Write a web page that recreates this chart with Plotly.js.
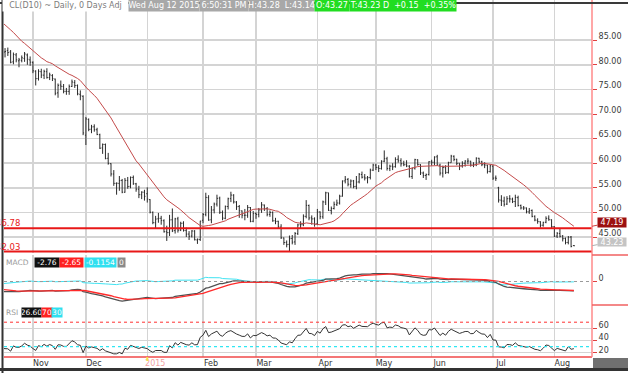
<!DOCTYPE html>
<html><head><meta charset="utf-8">
<script src="https://cdn.plot.ly/plotly-3.0.1.min.js"></script>
<style>html,body{margin:0;padding:0;background:#fff}#chart{width:628px;height:373px}</style>
</head><body><div id="chart"></div>
<script>
// ---------- DATA (CL(D10) daily bars) ----------
const dates = [
'2014-10-17','2014-10-20','2014-10-21','2014-10-22','2014-10-23','2014-10-24','2014-10-27','2014-10-28','2014-10-29','2014-10-30','2014-10-31',
'2014-11-03','2014-11-04','2014-11-05','2014-11-06','2014-11-07','2014-11-10','2014-11-11','2014-11-12','2014-11-13','2014-11-14','2014-11-17','2014-11-18','2014-11-19','2014-11-20','2014-11-21','2014-11-24','2014-11-25','2014-11-26','2014-11-28',
'2014-12-01','2014-12-02','2014-12-03','2014-12-04','2014-12-05','2014-12-08','2014-12-09','2014-12-10','2014-12-11','2014-12-12','2014-12-15','2014-12-16','2014-12-17','2014-12-18','2014-12-19','2014-12-22','2014-12-23','2014-12-24','2014-12-26','2014-12-29','2014-12-30','2014-12-31',
'2015-01-02','2015-01-05','2015-01-06','2015-01-07','2015-01-08','2015-01-09','2015-01-12','2015-01-13','2015-01-14','2015-01-15','2015-01-16','2015-01-20','2015-01-21','2015-01-22','2015-01-23','2015-01-26','2015-01-27','2015-01-28','2015-01-29','2015-01-30',
'2015-02-02','2015-02-03','2015-02-04','2015-02-05','2015-02-06','2015-02-09','2015-02-10','2015-02-11','2015-02-12','2015-02-13','2015-02-17','2015-02-18','2015-02-19','2015-02-20','2015-02-23','2015-02-24','2015-02-25','2015-02-26','2015-02-27',
'2015-03-02','2015-03-03','2015-03-04','2015-03-05','2015-03-06','2015-03-09','2015-03-10','2015-03-11','2015-03-12','2015-03-13','2015-03-16','2015-03-17','2015-03-18','2015-03-19','2015-03-20','2015-03-23','2015-03-24','2015-03-25','2015-03-26','2015-03-27','2015-03-30','2015-03-31',
'2015-04-01','2015-04-02','2015-04-06','2015-04-07','2015-04-08','2015-04-09','2015-04-10','2015-04-13','2015-04-14','2015-04-15','2015-04-16','2015-04-17','2015-04-20','2015-04-21','2015-04-22','2015-04-23','2015-04-24','2015-04-27','2015-04-28','2015-04-29','2015-04-30',
'2015-05-01','2015-05-04','2015-05-05','2015-05-06','2015-05-07','2015-05-08','2015-05-11','2015-05-12','2015-05-13','2015-05-14','2015-05-15','2015-05-18','2015-05-19','2015-05-20','2015-05-21','2015-05-22','2015-05-26','2015-05-27','2015-05-28','2015-05-29',
'2015-06-01','2015-06-02','2015-06-03','2015-06-04','2015-06-05','2015-06-08','2015-06-09','2015-06-10','2015-06-11','2015-06-12','2015-06-15','2015-06-16','2015-06-17','2015-06-18','2015-06-19','2015-06-22','2015-06-23','2015-06-24','2015-06-25','2015-06-26','2015-06-29','2015-06-30',
'2015-07-01','2015-07-02','2015-07-06','2015-07-07','2015-07-08','2015-07-09','2015-07-10','2015-07-13','2015-07-14','2015-07-15','2015-07-16','2015-07-17','2015-07-20','2015-07-21','2015-07-22','2015-07-23','2015-07-24','2015-07-27','2015-07-28','2015-07-29','2015-07-30','2015-07-31',
'2015-08-03','2015-08-04','2015-08-05','2015-08-06','2015-08-07','2015-08-10','2015-08-11','2015-08-12'];

const open = [
81.9,82.6,82.9,82.6,80.6,82.0,80.8,80.9,81.3,82.0,81.0,
80.5,78.7,77.2,78.6,77.9,78.6,77.4,77.8,77.1,74.3,75.9,75.6,74.6,74.6,75.6,76.4,75.8,74.0,73.6,
65.7,68.9,66.9,67.4,66.8,65.8,63.1,63.8,61.0,59.9,57.8,55.9,55.9,56.5,54.1,56.5,55.3,57.1,55.8,54.7,53.6,54.1,
53.8,52.6,50.0,47.9,48.7,48.8,48.3,46.1,45.9,48.5,46.3,48.7,46.4,47.8,46.3,45.6,45.2,46.2,44.4,44.5,
48.4,49.6,53.0,48.5,50.5,51.7,52.9,50.0,48.8,51.2,52.8,53.5,52.1,51.2,50.3,49.4,49.4,51.0,48.2,
49.8,49.6,50.5,51.5,50.8,49.6,50.0,48.3,48.2,47.0,44.8,43.9,43.5,44.7,44.0,45.7,47.5,47.5,49.2,51.4,48.9,48.7,
47.7,50.1,49.1,52.1,54.0,50.4,50.8,51.6,51.9,53.3,56.4,56.7,55.7,56.4,55.3,56.2,57.7,57.2,57.0,57.1,58.6,
59.6,59.1,58.9,60.4,60.9,58.9,59.4,59.3,60.8,60.5,59.9,59.7,59.4,57.3,59.0,60.7,59.7,58.0,57.5,57.7,
60.3,60.2,61.3,59.6,58.0,59.1,58.1,60.1,61.4,60.8,60.0,59.5,60.0,60.4,60.4,59.6,59.7,61.0,60.3,59.7,59.6,58.3,
59.4,57.0,55.0,52.5,52.3,51.7,52.8,52.7,52.2,53.0,51.4,50.9,50.9,50.1,50.4,49.2,48.4,48.1,47.4,48.0,48.8,48.5,
47.1,45.2,45.7,45.2,44.7,43.9,45.0,43.27];

const high = [
83.5,83.4,83.5,83.0,82.5,82.4,81.4,81.9,82.6,82.3,81.7,
80.7,78.9,79.1,79.2,79.0,79.3,78.4,78.1,77.2,76.2,76.8,76.1,75.3,76.0,77.0,76.9,76.0,74.8,73.8,
69.4,69.1,67.8,67.9,67.2,66.0,64.0,64.0,62.1,60.0,58.6,56.1,57.4,56.8,57.0,57.2,57.3,57.5,56.0,55.4,54.3,54.6,
55.1,52.7,50.2,49.3,49.9,49.3,48.6,47.3,49.5,50.8,48.9,49.1,48.1,48.2,46.9,46.2,46.4,46.4,44.7,48.3,
49.9,54.0,53.5,51.3,52.0,53.6,53.2,50.4,51.4,53.0,54.2,53.7,52.3,51.5,50.4,50.7,51.5,51.1,50.3,
50.0,50.9,52.1,51.6,51.1,50.4,50.2,48.9,48.3,47.6,44.9,44.3,45.3,45.4,46.0,47.7,48.2,49.6,52.5,51.6,49.4,49.0,
50.7,50.2,52.4,54.2,54.0,51.2,52.2,52.6,53.6,56.5,57.4,57.0,56.7,56.6,57.4,58.0,58.3,57.8,57.4,58.9,59.9,
59.9,59.6,60.6,62.6,61.3,59.7,60.0,61.2,61.6,61.0,60.5,60.6,59.6,59.1,60.9,60.8,59.8,58.3,57.9,60.4,
60.7,61.4,61.7,59.9,59.5,59.6,60.3,61.7,61.6,60.9,60.0,60.4,60.6,61.0,60.5,60.2,61.2,61.1,60.5,60.2,59.7,59.7,
59.6,57.5,55.2,53.5,53.2,53.3,53.5,53.0,53.6,53.4,51.6,51.3,51.0,50.9,50.6,49.4,48.8,48.2,48.1,49.2,49.4,48.6,
47.2,46.0,46.7,45.4,44.9,45.2,45.2,43.28];

const low = [
80.9,81.5,81.8,80.3,80.1,80.5,79.5,80.5,80.6,80.0,79.8,
78.3,75.8,76.8,77.3,77.1,77.2,76.9,76.7,73.8,73.3,74.9,74.2,73.9,73.9,75.5,75.3,73.8,72.8,65.7,
63.7,66.5,66.1,66.4,65.7,62.9,61.9,60.8,59.7,57.3,55.4,53.6,54.4,53.9,54.0,54.8,54.9,55.6,54.2,52.9,52.7,52.4,
52.0,49.8,47.6,46.8,47.9,47.5,45.9,44.2,45.2,46.0,45.7,45.9,46.2,46.1,45.0,44.4,44.9,44.3,43.6,44.2,
47.8,49.2,48.3,47.8,49.8,51.2,49.7,48.4,48.6,50.6,52.1,51.8,50.5,48.9,48.8,48.4,48.9,48.0,48.0,
48.7,49.0,49.9,50.3,49.2,49.1,48.1,47.6,46.7,44.6,43.4,42.9,42.03,43.5,43.4,45.4,46.7,47.2,48.8,48.4,47.5,47.1,
47.4,48.6,48.7,51.5,50.3,49.6,50.6,51.3,51.6,53.2,55.9,55.3,55.0,54.9,54.7,55.9,56.9,56.5,55.9,56.7,58.4,
58.6,58.2,58.7,60.2,58.5,58.4,58.6,59.1,60.1,59.3,59.4,59.2,57.1,56.8,58.7,59.5,57.6,57.0,56.6,57.5,
59.5,59.6,59.5,57.5,57.1,57.8,57.9,60.1,60.4,59.6,58.6,59.1,59.3,59.8,59.3,59.2,59.4,60.0,59.4,59.0,57.9,58.1,
56.6,56.4,52.0,51.3,51.2,51.5,52.0,51.9,51.1,51.2,50.6,50.5,49.8,49.7,49.0,48.2,47.7,46.9,47.1,47.8,48.3,46.7,
45.0,44.8,44.9,44.1,43.5,43.5,42.9,43.14];

const close = [
82.75,82.71,82.49,80.52,82.09,81.01,81.00,81.42,82.20,81.12,80.54,
78.78,77.19,78.68,77.91,78.65,77.40,77.94,77.18,74.21,75.82,75.64,74.61,74.58,75.58,76.51,75.78,74.09,73.69,66.15,
69.00,66.88,67.38,66.81,65.84,63.05,63.82,60.94,59.95,57.81,55.91,55.93,56.47,54.11,56.52,55.26,57.12,55.84,54.73,53.61,54.12,53.27,
52.69,50.04,47.93,48.65,48.79,48.36,46.07,45.89,48.48,46.25,48.69,46.39,47.78,46.31,45.59,45.15,46.23,44.45,44.53,48.24,
49.57,53.05,48.45,50.48,51.69,52.86,50.02,48.84,51.21,52.78,53.53,52.14,51.16,50.34,49.45,49.43,50.99,48.17,49.76,
49.59,50.52,51.53,50.76,49.61,50.00,48.29,48.17,47.05,44.84,43.88,43.46,44.66,43.96,45.72,47.45,47.51,49.21,51.43,48.87,48.68,47.60,
50.09,49.14,52.14,53.98,50.42,50.79,51.64,51.91,53.29,56.39,56.71,55.74,56.38,55.26,56.16,57.74,57.15,56.99,57.06,58.58,59.63,
59.15,58.93,60.40,60.93,58.94,59.39,59.25,60.75,60.50,59.88,59.69,59.43,57.26,58.98,60.72,59.72,58.03,57.51,57.68,60.30,
60.20,61.26,59.64,58.00,59.13,58.14,60.14,61.43,60.77,59.96,59.52,59.97,60.45,60.45,59.61,59.68,61.01,60.27,59.70,59.63,58.33,59.47,
56.96,56.93,52.53,52.33,51.65,52.78,52.74,52.20,53.04,51.41,50.91,50.89,50.15,50.36,49.19,48.45,48.14,47.39,47.98,48.79,48.52,47.12,
45.17,45.74,45.15,44.66,43.87,44.96,43.08,43.23];

// closes before the visible window (only used to warm up the indicators)
const priorCloses = [105.34,104.48,104.06,103.53,103.40,102.29,102.93,100.83,100.91,99.96,101.20,103.19,103.13,104.59,102.39,103.12,102.07,102.09,101.67,100.97,100.27,98.17,
97.88,98.29,97.38,96.92,97.34,97.65,98.08,97.37,97.59,95.58,97.35,96.41,94.48,96.07,93.96,93.65,93.35,93.86,93.88,94.55,95.96,
92.88,95.54,94.45,93.29,92.66,92.75,91.67,92.83,92.27,92.92,94.88,94.42,93.07,92.41,91.52,91.56,92.80,92.53,93.54,94.57,91.16,
90.73,91.01,89.74,90.34,88.85,87.31,85.77,85.82,85.74,81.84,81.78,82.70];

const holidays = ['2014-11-27','2014-12-25','2015-01-01','2015-01-19','2015-02-16','2015-04-03','2015-05-25','2015-07-03'];
const monthTicks = ['2014-11-03','2014-12-01','2015-01-02','2015-02-02','2015-03-02','2015-04-01','2015-05-01','2015-06-01','2015-07-01','2015-08-03'];
const monthLabels = ['Nov','Dec','<span style="color:#f2a2a2">2015</span>','Feb','Mar','Apr','May','Jun','Jul','Aug'];
const priceTicks = [45,50,55,60,65,70,75,80,85];
const rsiTicks = [20,40,60];
const levelLines = [46.78, 42.03];
const headerTexts = ['CL(D10) ~ Daily, 0 Days Adj','Wed Aug 12 2015','6:50:31 PM','H:43.28\u00a0\u00a0L:43.14','O:43.27','T:43.23 D\u00a0\u00a0+0.15\u00a0\u00a0+0.35%'];
const macdLabels = ['MACD','-2.76','-2.65','-0.1154','0'];
const rsiLabels = ['RSI','26.60','70','30'];

// ---------- INDICATORS ----------
const allC = priorCloses.concat(close);
const off = priorCloses.length;
function sma(a,n){return a.map((v,i)=> i<n-1?null:a.slice(i-n+1,i+1).reduce((s,x)=>s+x,0)/n);}
function ema(a,n){const k=2/(n+1);let e=null;return a.map(v=>{e=(e===null)?v:v*k+e*(1-k);return e;});}
const ma20 = sma(allC,20).slice(off);
const e12 = ema(allC,12), e26 = ema(allC,26);
const macdAll = e12.map((v,i)=>v-e26[i]);
const sigAll = ema(macdAll,9);
const macd = macdAll.slice(off), signal = sigAll.slice(off);
const hist = macd.map((v,i)=>v-signal[i]);
function rsiCalc(a,n){const out=new Array(a.length).fill(null);let g=0,l=0;
  for(let i=1;i<=n;i++){const d=a[i]-a[i-1]; if(d>0) g+=d; else l-=d;}
  g/=n; l/=n; out[n]=100-100/(1+g/l);
  for(let i=n+1;i<a.length;i++){const d=a[i]-a[i-1]; g=(g*(n-1)+(d>0?d:0))/n; l=(l*(n-1)+(d<0?-d:0))/n; out[i]=100-100/(1+g/l);}
  return out;}
const rsi = rsiCalc(allC,14).slice(off);

// ---------- LAYOUT HELPERS (pixel -> paper) ----------
const W=628,H=373,ML=4,MR=36,MT=0,MB=16;
const PW=W-ML-MR, PH=H-MT-MB;
const px=x=>(x-ML)/PW, py=y=>(PH+MT-y)/PH;
const FONT='DejaVu Sans';
const gridC='#d4d4d4';

const traces = [
 {type:'ohlc', x:dates, open:open, high:high, low:low, close:close, xaxis:'x', yaxis:'y',
  increasing:{line:{color:'#2a2a2a',width:1}}, decreasing:{line:{color:'#2a2a2a',width:1}}, tickwidth:0.35, hoverinfo:'skip'},
 {type:'scatter', mode:'lines', x:dates, y:ma20, xaxis:'x', yaxis:'y', line:{color:'#c44a4a',width:1}, hoverinfo:'skip'},
 {type:'scatter', mode:'lines', x:dates, y:hist, xaxis:'x', yaxis:'y2', line:{color:'#3fe3f2',width:1}, hoverinfo:'skip'},
 {type:'scatter', mode:'lines', x:dates, y:macd, xaxis:'x', yaxis:'y2', line:{color:'#505050',width:1.3}, hoverinfo:'skip'},
 {type:'scatter', mode:'lines', x:dates, y:signal, xaxis:'x', yaxis:'y2', line:{color:'#ff2a2a',width:1.3}, hoverinfo:'skip'},
 {type:'scatter', mode:'lines', x:dates, y:rsi, xaxis:'x', yaxis:'y3', line:{color:'#333333',width:1}, hoverinfo:'skip'}
];

const shapes = [];
levelLines.forEach(v=>shapes.push({type:'line',xref:'paper',yref:'y',x0:0,x1:1,y0:v,y1:v,line:{color:'#e81818',width:2}}));
shapes.push({type:'line',xref:'paper',yref:'y2',x0:0,x1:1,y0:0,y1:0,line:{color:'#9a9a9a',width:1,dash:'dot'}});
shapes.push({type:'line',xref:'paper',yref:'y3',x0:0,x1:1,y0:70,y1:70,line:{color:'#ff3030',width:1,dash:'dot'}});
shapes.push({type:'line',xref:'paper',yref:'y3',x0:0,x1:1,y0:30,y1:30,line:{color:'#30e6f2',width:1.2,dash:'dot'}});
shapes.push({type:'line',xref:'paper',yref:'paper',x0:0,x1:1,y0:0,y1:0,line:{color:'#f04848',width:1.5}});
shapes.push({type:'line',xref:'paper',yref:'paper',x0:1,x1:1,y0:0,y1:py(0),line:{color:'#ff8a8a',width:1.5}});
[255,305].forEach(y=>shapes.push({type:'line',xref:'paper',yref:'paper',x0:1,x1:px(628),y0:py(y),y1:py(y),line:{color:'#f06060',width:1.5}}));
// small yellow year marker under the 2015 gridline
shapes.push({type:'line',xref:'x',yref:'paper',x0:monthTicks[2],x1:monthTicks[2],y0:py(357),y1:py(361),line:{color:'#f4e04a',width:2}});
shapes.push({type:'rect',xref:'paper',yref:'paper',x0:px(593),x1:px(628),y0:py(368),y1:py(358),fillcolor:'#707070',line:{width:0}});
shapes.push({type:'rect',xref:'paper',yref:'paper',x0:px(0),x1:px(628),y0:py(371),y1:py(368),fillcolor:'#333',line:{width:0}});
shapes.push({type:'rect',xref:'paper',yref:'paper',x0:px(1.5),x1:px(3.5),y0:py(373),y1:py(0),fillcolor:'#333',line:{width:0}});
shapes.push({type:'rect',xref:'paper',yref:'paper',x0:px(0),x1:px(628),y0:py(4),y1:py(2),fillcolor:'#3a3a3a',line:{width:0}});

const ann = [];
function box(text,xl,w,yc,h,bg,col,size){
  ann.push({xref:'paper',yref:'paper',x:px(xl),y:py(yc),xanchor:'left',yanchor:'middle',text:text,showarrow:false,
    width:w,height:h,bgcolor:bg,borderpad:0,align:bg?'center':'left',font:{family:FONT,size:size||8,color:col}});
}
const hx=[2,128,199,248,314,349], hw=[125,70,48,65,34,106];
const hbg=['#ffffff','#a8a8a8','#a8a8a8','#a8a8a8','#21dd21','#21dd21'];
headerTexts.forEach((t,i)=>box(t,hx[i],hw[i],5.5,11,hbg[i],i===0?'#7c7c7c':'#ffffff',8));
const mx=[5,34,59,84,117], mw=[27,24,23,31,7], mbg=[null,'#111111','#ff2020','#2fe0f0','#8a8a8a'];
macdLabels.forEach((t,i)=>box(t,mx[i],mw[i],262,9,mbg[i],i===0?'#9a9a9a':'#ffffff',7.5));
const rx=[5,21,41,51], rw=[16,19,10,10], rbg=[null,'#111111','#ff2020','#2fe0f0'];
rsiLabels.forEach((t,i)=>box(t,rx[i],rw[i],312,9,rbg[i],i===0?'#9a9a9a':'#ffffff',7.5));
levelLines.forEach((v,i)=>ann.push({xref:'paper',yref:'paper',x:px(22),y:py(i===0?222.5:246.5),xanchor:'right',yanchor:'middle',
  text:v.toFixed(2),showarrow:false,font:{family:FONT,size:8.5,color:'#e81818'}}));
const lastMA = ma20[ma20.length-1], lastC = close[close.length-1];
ann.push({xref:'paper',yref:'y',x:1,y:lastMA,text:lastMA.toFixed(2),showarrow:true,arrowhead:0,arrowwidth:1,arrowcolor:'#d04040',
  ax:20,ay:-4,width:28,height:9,bgcolor:'#9c1010',borderpad:0,font:{family:FONT,size:8,color:'#fff'}});
ann.push({xref:'paper',yref:'y',x:1,y:lastC,text:lastC.toFixed(2),showarrow:true,arrowhead:0,arrowwidth:1,arrowcolor:'#b0b0b0',
  ax:20,ay:-4,width:28,height:8,bgcolor:'#c4c4c4',borderpad:0,font:{family:FONT,size:8,color:'#fff'}});

const layout = {
  width:W, height:H, margin:{l:ML,r:MR,t:MT,b:MB,pad:0},
  paper_bgcolor:'#fff', plot_bgcolor:'#fff', showlegend:false, hovermode:false, dragmode:false,
  font:{family:FONT,size:8,color:'#333'},
  xaxis:{type:'date', anchor:'y3', domain:[0,1], range:['2014-10-17 15:00','2015-08-20 12:00'],
    rangebreaks:[{bounds:['sat','mon']},{values:holidays}],
    tickmode:'array', tickvals:monthTicks, ticktext:monthLabels, ticks:'', showgrid:true, gridcolor:gridC, gridwidth:1.5,
    zeroline:false, showline:false, ticklabelshift:8, tickfont:{family:FONT,size:8,color:'#333'}, rangeslider:{visible:false}, fixedrange:true},
  yaxis:{domain:[py(253),1], anchor:'x', side:'right', range:[41.75,93.17], tickmode:'array', tickvals:priceTicks, tickformat:'.2f',
    showgrid:true, gridcolor:gridC, gridwidth:1.5, zeroline:false, ticks:'outside', ticklen:4, tickcolor:'#e04040', tickwidth:1,
    ticklabelshift:-4, tickfont:{family:FONT,size:8,color:'#3a3a3a'}, fixedrange:true},
  yaxis2:{domain:[py(305),py(255)], anchor:'x', side:'right', range:[-6.91,7.79], tickmode:'array', tickvals:[0],
    showgrid:false, zeroline:false, ticks:'outside', ticklen:4, tickcolor:'#e04040', ticklabelshift:-3,
    tickfont:{family:FONT,size:8,color:'#3a3a3a'}, fixedrange:true},
  yaxis3:{domain:[0,py(305)], anchor:'x', side:'right', range:[12.95,98.2], tickmode:'array', tickvals:rsiTicks,
    showgrid:true, gridcolor:gridC, gridwidth:1.2, zeroline:false, ticks:'outside', ticklen:4, tickcolor:'#e04040', ticklabelshift:-3,
    tickfont:{family:FONT,size:8,color:'#3a3a3a'}, fixedrange:true},
  shapes:shapes, annotations:ann
};
Plotly.newPlot('chart', traces, layout, {staticPlot:true, displayModeBar:false});
</script></body></html>
